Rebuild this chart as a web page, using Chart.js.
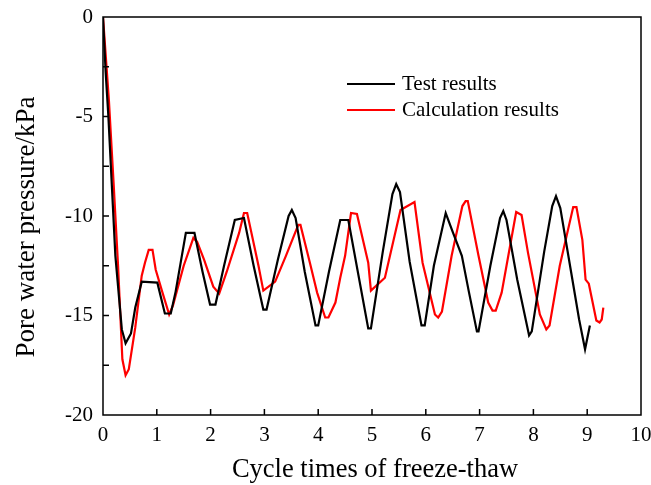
<!DOCTYPE html>
<html>
<head>
<meta charset="utf-8">
<script src="https://cdn.jsdelivr.net/npm/chart.js@4/dist/chart.umd.min.js"></script>
<style>
  body { margin: 0; background: #fff; }
  canvas { display: block; }
</style>
</head>
<body>
<canvas id="chart" width="651" height="485"></canvas>
<script>
// Test results (black)
const testX = [0, 0.05, 0.1, 0.23, 0.35, 0.42, 0.52, 0.6, 0.72, 1.01, 1.15, 1.26, 1.35, 1.54, 1.70, 1.85, 1.99, 2.09, 2.25, 2.45, 2.62, 2.8, 2.98, 3.04, 3.25, 3.45, 3.51, 3.58, 3.75, 3.95, 4.0, 4.2, 4.41, 4.56, 4.75, 4.93, 4.98, 5.2, 5.38, 5.45, 5.52, 5.7, 5.92, 5.98, 6.15, 6.37, 6.5, 6.67, 6.8, 6.95, 6.98, 7.2, 7.38, 7.44, 7.5, 7.7, 7.92, 7.97, 8.2, 8.35, 8.42, 8.5, 8.7, 8.85, 8.96, 9.05];
const testY = [0, -2.8, -5, -12, -15.7, -16.4, -15.9, -14.6, -13.3, -13.35, -14.9, -14.9, -13.8, -10.85, -10.85, -12.8, -14.45, -14.45, -12.5, -10.2, -10.1, -12.5, -14.7, -14.7, -12.2, -10, -9.7, -10.1, -12.8, -15.5, -15.5, -12.8, -10.2, -10.2, -13, -15.65, -15.65, -11.8, -8.9, -8.4, -8.8, -12.3, -15.5, -15.5, -12.5, -9.85, -10.8, -12.0, -13.8, -15.8, -15.8, -12.5, -10.1, -9.75, -10.2, -13.2, -16.0, -15.8, -11.8, -9.5, -9.0, -9.6, -12.8, -15.2, -16.7, -15.5];

// Calculation results (red)
const calcX = [0, 0.11, 0.2, 0.28, 0.36, 0.42, 0.48, 0.6, 0.72, 0.78, 0.85, 0.92, 0.98, 1.1, 1.23, 1.3, 1.5, 1.68, 1.75, 1.88, 2.05, 2.16, 2.3, 2.53, 2.62, 2.68, 2.89, 2.98, 3.2, 3.4, 3.63, 3.67, 3.85, 3.98, 4.13, 4.19, 4.32, 4.41, 4.5, 4.61, 4.72, 4.93, 4.98, 5.24, 5.53, 5.79, 5.94, 6.17, 6.23, 6.3, 6.48, 6.68, 6.74, 6.78, 6.98, 7.16, 7.24, 7.3, 7.41, 7.68, 7.78, 7.90, 8.12, 8.24, 8.3, 8.49, 8.74, 8.80, 8.91, 8.97, 9.03, 9.17, 9.23, 9.27, 9.30];
const calcY = [0, -4.2, -8.5, -12.5, -17.2, -18.0, -17.7, -15.6, -13.0, -12.35, -11.7, -11.7, -12.7, -13.8, -14.95, -14.5, -12.5, -11.1, -11.3, -12.2, -13.55, -13.9, -12.8, -10.85, -9.85, -9.85, -12.5, -13.75, -13.3, -12.0, -10.45, -10.45, -12.4, -13.85, -15.1, -15.1, -14.35, -13.1, -12.0, -9.85, -9.9, -12.35, -13.75, -13.1, -9.7, -9.3, -12.35, -14.95, -15.1, -14.8, -12.0, -9.5, -9.25, -9.25, -12.0, -14.35, -14.75, -14.75, -13.85, -9.8, -9.95, -11.85, -14.95, -15.7, -15.5, -12.5, -9.55, -9.55, -11.2, -13.2, -13.4, -15.25, -15.35, -15.2, -14.6];

const seriesNames = ["Test results", "Calculation results"];
const seriesColors = ["#000000", "#ff0000"];
const xTitle = "Cycle times of freeze-thaw";
const yTitle = "Pore water pressure/kPa";

const serif = "'Liberation Serif', 'Times New Roman', serif";

function pairs(xs, ys) {
  return xs.map((x, i) => ({ x: x, y: ys[i] }));
}

// frame, inward ticks, axis titles and legend
const framePlugin = {
  id: "frame",
  afterDraw(chart) {
    const ctx = chart.ctx;
    const a = chart.chartArea;
    const xs = chart.scales.x;
    const ys = chart.scales.y;
    ctx.save();
    ctx.strokeStyle = "#000";
    ctx.lineWidth = 1.5;
    ctx.strokeRect(a.left, a.top, a.right - a.left, a.bottom - a.top);
    ctx.beginPath();
    for (let v = 1; v < 10; v++) {
      const px = xs.getPixelForValue(v);
      ctx.moveTo(px, a.bottom);
      ctx.lineTo(px, a.bottom - 6);
    }
    for (let v = -17.5; v < 0; v += 2.5) {
      const py = ys.getPixelForValue(v);
      ctx.moveTo(a.left, py);
      ctx.lineTo(a.left + 6, py);
    }
    ctx.stroke();

    // axis titles
    ctx.fillStyle = "#000";
    ctx.textAlign = "center";
    ctx.textBaseline = "middle";
    ctx.font = "26.5px " + serif;
    ctx.fillText(xTitle, 375, 470);
    ctx.save();
    ctx.translate(27, 227);
    ctx.rotate(-Math.PI / 2);
    ctx.font = "27px " + serif;
    ctx.fillText(yTitle, 0, 0);
    ctx.restore();

    // legend
    ctx.font = "21px " + serif;
    ctx.textAlign = "left";
    const ly = [84, 110];
    seriesNames.forEach((name, i) => {
      ctx.strokeStyle = seriesColors[i];
      ctx.lineWidth = 2;
      ctx.beginPath();
      ctx.moveTo(347, ly[i]);
      ctx.lineTo(395, ly[i]);
      ctx.stroke();
      ctx.fillText(name, 402, ly[i]);
    });
    ctx.restore();
  },
};

new Chart(document.getElementById("chart"), {
  type: "line",
  data: {
    datasets: [
      {
        label: seriesNames[0],
        data: pairs(testX, testY),
        borderColor: seriesColors[0],
        borderWidth: 2.2,
        pointRadius: 0,
        tension: 0,
        fill: false,
      },
      {
        label: seriesNames[1],
        data: pairs(calcX, calcY),
        borderColor: seriesColors[1],
        borderWidth: 2.2,
        pointRadius: 0,
        tension: 0,
        fill: false,
      },
    ],
  },
  options: {
    responsive: false,
    animation: false,
    layout: { padding: { left: 0, top: 17, right: 10, bottom: 0 } },
    plugins: {
      legend: { display: false },
      tooltip: { enabled: false },
    },
    scales: {
      x: {
        type: "linear",
        min: 0,
        max: 10,
        grid: { display: false, drawTicks: false },
        border: { display: false },
        ticks: {
          stepSize: 1,
          padding: 8,
          color: "#000",
          font: { family: serif, size: 21 },
        },
        afterFit(scale) {
          scale.height = 70;
          scale.paddingLeft = 0;
          scale.paddingRight = 0;
        },
      },
      y: {
        type: "linear",
        min: -20,
        max: 0,
        grid: { display: false, drawTicks: false },
        border: { display: false },
        ticks: {
          stepSize: 5,
          padding: 10,
          color: "#000",
          font: { family: serif, size: 21 },
        },
        afterFit(scale) {
          scale.width = 103;
          scale.paddingTop = 0;
          scale.paddingBottom = 0;
        },
      },
    },
  },
  plugins: [framePlugin],
});
</script>
</body>
</html>
